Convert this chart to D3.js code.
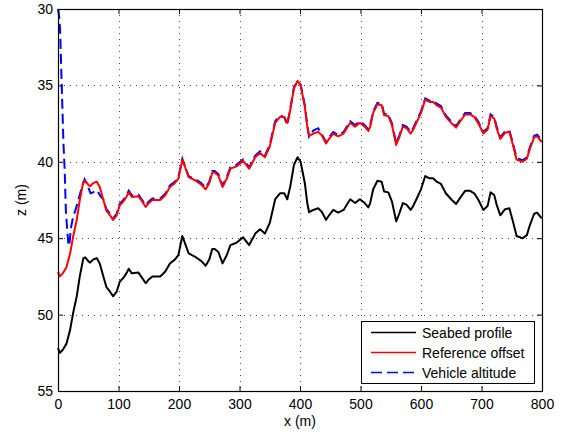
<!DOCTYPE html>
<html lang="en">
<head>
<meta charset="utf-8">
<title>Seabed profile, reference offset and vehicle altitude</title>
<script src="https://cdn.jsdelivr.net/npm/d3@7"></script>
<style>
body { margin: 0; background: #fff; }
text { font-family: "Liberation Sans", Arial, Helvetica, sans-serif; font-size: 14px; fill: #000; }
</style>
</head>
<body>
<script>

// along-track distance (m) for seabed and reference
var trackX = [
  0, 3, 8, 14, 20, 25, 31, 36, 42, 45,
  50, 53, 58, 64, 69, 75, 80, 86, 91, 97,
  102, 108, 113, 117, 122, 133, 139, 145, 150, 156,
  169, 177, 185, 193, 199, 205.5, 211, 216, 226, 237,
  244, 250, 255, 259, 265, 272, 279, 285, 295, 306,
  316, 326, 334, 342, 350, 359, 367, 374, 379, 384,
  390, 396, 401, 408, 412, 415, 422, 430, 436, 443,
  448, 455, 463, 472, 483, 491, 499, 507, 513, 516,
  521, 528, 535, 539, 546, 552, 559, 564, 570, 576,
  583, 587, 593, 600, 607, 614, 620, 626, 633, 641,
  651, 658, 666, 673, 681, 688, 695, 703, 710, 715,
  721, 725, 731, 739, 746, 752, 758, 768, 775, 780,
  787, 792, 798, 800
];

var seabedZ = [
  52.2, 52.5, 52.3, 51.9, 51.0, 49.9, 48.8, 47.5, 46.3, 46.25,
  46.5, 46.6, 46.4, 46.3, 46.65, 47.5, 48.2, 48.5, 48.8, 48.5,
  47.85, 47.6, 47.3, 47.0, 47.3, 47.25, 47.6, 47.95, 47.7, 47.5,
  47.5, 47.2, 46.65, 46.4, 46.1, 44.86, 45.45, 46.0, 46.2, 46.5,
  46.8, 46.4, 45.7, 45.7, 45.9, 46.65, 46.1, 45.45, 45.3, 44.94,
  45.45, 44.7, 44.42, 44.7, 44.0, 42.45, 42.06, 42.06, 42.45, 41.6,
  40.2, 39.7, 40.0, 41.4, 42.7, 43.3, 43.15, 43.04, 43.27, 43.8,
  43.5, 43.15, 43.33, 43.15, 42.45, 42.7, 42.45, 42.7, 42.98, 42.7,
  41.8, 41.24, 41.3, 41.95, 42.0, 42.6, 43.9, 43.4, 42.7, 42.8,
  43.15, 42.9, 42.4, 41.8, 40.93, 41.08, 41.08, 41.3, 41.45, 42.06,
  42.5, 42.76, 42.28, 41.9, 41.9, 42.06, 42.5, 43.15, 42.9, 42.0,
  42.17, 42.8, 43.5, 43.1, 43.04, 43.9, 44.86, 45.0, 44.8, 44.14,
  43.4, 43.33, 43.63, 43.7
];

var referenceZ = [
  47.2, 47.5, 47.3, 46.9, 46.0, 44.9, 43.8, 42.5, 41.3, 41.25,
  41.5, 41.6, 41.4, 41.3, 41.65, 42.5, 43.2, 43.5, 43.8, 43.5,
  42.85, 42.6, 42.3, 42.0, 42.3, 42.25, 42.6, 42.95, 42.7, 42.5,
  42.5, 42.2, 41.65, 41.4, 41.1, 39.86, 40.45, 41.0, 41.2, 41.5,
  41.8, 41.4, 40.7, 40.7, 40.9, 41.65, 41.1, 40.45, 40.3, 39.94,
  40.45, 39.7, 39.42, 39.7, 39.0, 37.45, 37.06, 37.06, 37.45, 36.6,
  35.2, 34.7, 35.0, 36.4, 37.7, 38.3, 38.15, 38.04, 38.27, 38.8,
  38.5, 38.15, 38.33, 38.15, 37.45, 37.7, 37.45, 37.7, 37.98, 37.7,
  36.8, 36.24, 36.3, 36.95, 37.0, 37.6, 38.9, 38.4, 37.7, 37.8,
  38.15, 37.9, 37.4, 36.8, 35.93, 36.08, 36.08, 36.3, 36.45, 37.06,
  37.5, 37.76, 37.28, 36.9, 36.9, 37.06, 37.5, 38.15, 37.9, 37.0,
  37.17, 37.8, 38.5, 38.1, 38.04, 38.9, 39.86, 40.0, 39.8, 39.14,
  38.4, 38.33, 38.63, 38.7
];

// vehicle track has its own samples (dive from the surface at the start)
var vehicleX = [
  0, 2, 3.5, 6, 9, 11, 13, 15.5, 17.5, 19,
  21.5, 25, 29, 35, 40, 44, 48, 54, 58, 62,
  66, 71, 75, 80, 86, 91, 97, 102, 108, 113,
  117, 122, 133, 139, 145, 150, 156, 169, 177, 185,
  193, 199, 205.5, 211, 216, 226, 237, 244, 250, 255,
  259, 265, 272, 279, 285, 295, 306, 316, 326, 334,
  342, 350, 359, 367, 374, 379, 384, 390, 396, 401,
  408, 412, 415, 422, 430, 436, 443, 448, 455, 463,
  472, 483, 491, 499, 507, 513, 516, 521, 528, 535,
  539, 546, 552, 559, 564, 570, 576, 583, 587, 593,
  600, 607, 614, 620, 626, 633, 641, 651, 658, 666,
  673, 681, 688, 695, 703, 710, 715, 721, 725, 731,
  739, 746, 752, 758, 768, 775, 780, 787, 792, 798,
  800
];

var vehicleZ = [
  30.0, 30.5, 31.4, 34.8, 38.8, 40.5, 43.2, 44.6, 45.5, 45.3,
  44.3, 43.6, 43.15, 42.3, 41.6, 41.15, 41.5, 42.06, 42.0, 41.85,
  41.96, 42.3, 42.45, 43.1, 43.4, 43.7, 43.4, 42.75, 42.5, 42.2,
  41.9, 42.2, 42.15, 42.5, 42.85, 42.6, 42.4, 42.4, 42.1, 41.55,
  41.3, 41.0, 39.8, 40.4, 40.95, 41.1, 41.4, 41.7, 41.3, 40.6,
  40.6, 40.8, 41.55, 41.0, 40.35, 40.2, 39.85, 40.35, 39.6, 39.32,
  39.6, 38.9, 37.35, 36.95, 37.1, 37.6, 36.5, 35.1, 34.75, 34.95,
  36.3, 37.6, 38.35, 37.95, 37.8, 38.2, 38.7, 38.4, 38.05, 38.25,
  38.05, 37.35, 37.6, 37.35, 37.6, 37.9, 37.6, 36.7, 36.14, 36.2,
  36.85, 36.9, 37.5, 38.8, 38.3, 37.6, 37.7, 38.05, 37.8, 37.3,
  36.7, 35.85, 36.0, 36.0, 36.2, 36.35, 36.96, 37.4, 37.66, 37.18,
  36.8, 36.8, 36.96, 37.4, 38.05, 37.8, 36.9, 37.07, 37.7, 38.4,
  38.0, 37.94, 38.8, 39.76, 39.9, 39.7, 39.04, 38.3, 38.23, 38.53,
  38.6
];

var xTicks = [0, 100, 200, 300, 400, 500, 600, 700, 800];
var zTicks = [30, 35, 40, 45, 50, 55];
var legendLabels = ["Seabed profile", "Reference offset", "Vehicle altitude"];

var w = 565, h = 433;
// plot box in pixels ("top" is taken by window.top, so use other names)
var plotL = 58, plotR = 542, plotT = 9, plotB = 391;

var svg = d3.select("body").append("svg")
  .attr("width", w)
  .attr("height", h);

var x = d3.scaleLinear().domain([0, 800]).range([plotL, plotR]);
var y = d3.scaleLinear().domain([30, 55]).range([plotT, plotB]);

// dotted grid
var grid = svg.append("g")
  .attr("stroke", "#444")
  .attr("stroke-width", 1)
  .attr("stroke-dasharray", "1,5")
  .attr("shape-rendering", "crispEdges");
grid.selectAll(".gx").data(xTicks.slice(1, -1)).enter().append("line")
  .attr("x1", function(d) { return Math.round(x(d)) + 0.5; })
  .attr("x2", function(d) { return Math.round(x(d)) + 0.5; })
  .attr("y1", plotT).attr("y2", plotB);
grid.selectAll(".gy").data(zTicks.slice(1, -1)).enter().append("line")
  .attr("y1", function(d) { return Math.round(y(d)) + 0.5; })
  .attr("y2", function(d) { return Math.round(y(d)) + 0.5; })
  .attr("x1", plotL).attr("x2", plotR);

// axes, ticks pointing inwards like matlab
function styleAxis(g) {
  g.select(".domain").remove();
  g.selectAll("line").attr("stroke", "#000");
  g.selectAll("text").style("font-size", "14px")
    .style("font-family", "'Liberation Sans', Arial, Helvetica, sans-serif");
}

svg.append("g")
  .attr("transform", "translate(0," + plotB + ")")
  .call(d3.axisBottom(x).tickValues(xTicks).tickSizeInner(-5).tickSizeOuter(0).tickPadding(8))
  .call(styleAxis);
svg.append("g")
  .attr("transform", "translate(0," + plotT + ")")
  .call(d3.axisTop(x).tickValues(xTicks).tickSizeInner(-5).tickSizeOuter(0).tickFormat(""))
  .call(styleAxis);
svg.append("g")
  .attr("transform", "translate(" + plotL + ",0)")
  .call(d3.axisLeft(y).tickValues(zTicks).tickSizeInner(-5).tickSizeOuter(0).tickPadding(5))
  .call(styleAxis);
svg.append("g")
  .attr("transform", "translate(" + plotR + ",0)")
  .call(d3.axisRight(y).tickValues(zTicks).tickSizeInner(-5).tickSizeOuter(0).tickFormat(""))
  .call(styleAxis);

// lines
var line = d3.line()
  .x(function(d) { return x(d[0]); })
  .y(function(d) { return y(d[1]); });

var seabed = d3.zip(trackX, seabedZ);
var reference = d3.zip(trackX, referenceZ);
var vehicle = d3.zip(vehicleX, vehicleZ);

svg.append("path").datum(seabed)
  .attr("d", line)
  .attr("fill", "none").attr("stroke", "#000").attr("stroke-width", 2)
  .attr("stroke-linejoin", "round");

svg.append("path").datum(vehicle)
  .attr("d", line)
  .attr("fill", "none").attr("stroke", "#0000ff").attr("stroke-width", 2)
  .attr("stroke-dasharray", "10,5");

svg.append("path").datum(reference)
  .attr("d", line)
  .attr("fill", "none").attr("stroke", "#ff0000").attr("stroke-width", 2)
  .attr("stroke-linejoin", "round");

// box
svg.append("rect")
  .attr("x", plotL + 0.5).attr("y", plotT + 0.5)
  .attr("width", plotR - plotL).attr("height", plotB - plotT)
  .attr("fill", "none").attr("stroke", "#000").attr("stroke-width", 1.2);

// axis labels
svg.append("text")
  .attr("x", (plotL + plotR) / 2).attr("y", 426)
  .attr("text-anchor", "middle")
  .text("x (m)");
svg.append("text")
  .attr("transform", "translate(26," + (plotT + plotB) / 2 + ") rotate(-90)")
  .attr("text-anchor", "middle")
  .text("z (m)");

// legend
var legend = svg.append("g");
legend.append("rect")
  .attr("x", 361.5).attr("y", 321.5)
  .attr("width", 173).attr("height", 62)
  .attr("fill", "#fff").attr("stroke", "#000").attr("stroke-width", 1);

var legendColors = ["#000", "#ff0000", "#0000ff"];
var legendDash = [null, null, "11,5"];
legendLabels.forEach(function(label, i) {
  var ly = 332.5 + i * 20;
  legend.append("line")
    .attr("x1", 371).attr("x2", 416)
    .attr("y1", ly).attr("y2", ly)
    .attr("stroke", legendColors[i]).attr("stroke-width", 1.5)
    .attr("stroke-dasharray", legendDash[i]);
  legend.append("text")
    .attr("x", 422).attr("y", ly)
    .attr("dy", "0.36em")
    .text(label);
});

</script>
</body>
</html>
